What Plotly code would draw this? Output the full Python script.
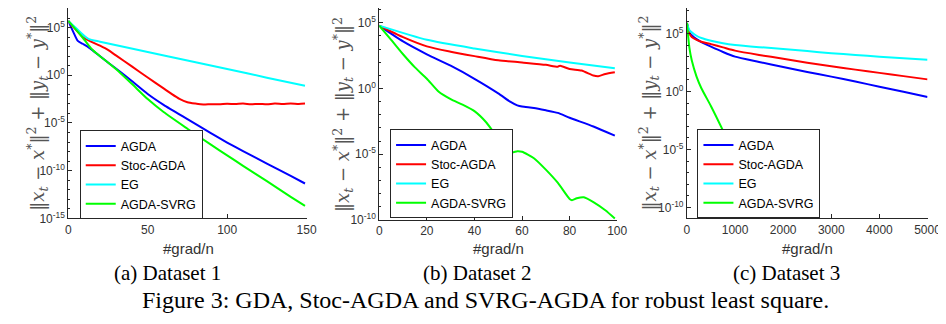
import plotly.graph_objects as go

# ---------------- data ----------------
names = ["AGDA", "Stoc-AGDA", "EG", "AGDA-SVRG"]
colors = ["#0000FF", "#FF0000", "#00FFFF", "#00FF00"]

# Dataset 1
d1_agda_t = [0, 3, 6, 9, 13, 20, 25, 30, 40, 50, 60, 75, 90, 100, 110, 125, 140, 149]
d1_agda_y = [5e5, 4e4, 4e3, 2e3, 8e2, 1.0e2, 2.2e1, 5.2, 2.5e-1, 1.1e-2, 8e-4, 2.5e-5, 8e-7, 8.9e-8, 1.1e-8, 5.6e-10, 2.8e-11, 4.5e-12]
d1_stoc_t = [0, 10, 20, 25, 30, 40, 50, 60, 65, 70, 75, 80, 85, 90, 95, 100, 105, 110, 115, 120, 125, 130, 135, 140, 145, 149]
d1_stoc_y = [5e5, 8e3, 1.25e3, 4.5e2, 1.2e2, 8.5, 5.8e-1, 4.2e-2, 1.1e-2, 3.3e-3, 1.5e-3, 1.07e-3, 8.5e-4, 9.3e-4, 8.9e-4, 1.05e-3, 9.5e-4, 1.07e-3, 9.1e-4, 1.0e-3, 8.9e-4, 1.1e-3, 1.0e-3, 1.12e-3, 1.0e-3, 1.07e-3]
d1_eg_t = [0, 5, 10, 13, 20, 50, 75, 100, 125, 149]
d1_eg_y = [5e5, 8.5e4, 1.4e4, 6.2e3, 3.3e3, 2.8e2, 3.5e1, 4.6, 5.6e-1, 7.9e-2]
d1_svrg_t = [0, 5, 10, 15, 20, 25, 30, 40, 50, 60, 75, 90, 100, 110, 125, 140, 149]
d1_svrg_y = [5e5, 5.6e4, 5.6e3, 5e2, 1.0e2, 2.2e1, 4.5, 1.26e-1, 3.2e-3, 1.4e-4, 2.5e-6, 5e-8, 4e-9, 3.2e-10, 7.9e-12, 1.8e-13, 2e-14]

# Dataset 2
d2_agda_t = [0, 10, 20, 30, 40, 50, 55, 58, 60, 65, 70, 75, 80, 90, 99]
d2_agda_y = [6e4, 3.8e3, 4e2, 5.4e1, 5.5, 4.3e-1, 1.0e-1, 5.2e-2, 4.2e-2, 3.3e-2, 2.2e-2, 1.4e-2, 6e-3, 1.3e-3, 2.6e-4]
d2_stoc_t = [0, 10, 20, 30, 40, 50, 60, 70, 75, 76, 80, 85, 90, 92, 95, 99]
d2_stoc_y = [6e4, 8e3, 1.6e3, 6.3e2, 2.9e2, 1.4e2, 9.5e1, 6.3e1, 4.5e1, 5.4e1, 3.0e1, 2.3e1, 9.8, 8.7, 1.26e1, 1.7e1]
d2_eg_t = [0, 20, 40, 60, 80, 99]
d2_eg_y = [6e4, 5e3, 1.1e3, 3.0e2, 9.5e1, 3.4e1]
d2_svrg_t = [0, 5, 10, 15, 20, 25, 30, 35, 40, 45, 50, 54, 56, 58, 60, 65, 70, 75, 80, 81, 83, 86, 90, 95, 99]
d2_svrg_y = [6e4, 5e3, 4e2, 4e1, 5.5, 5.6e-1, 1.55e-1, 5.9e-2, 1.9e-2, 2.6e-3, 1.5e-4, 1.7e-5, 1.4e-5, 1.7e-5, 1.55e-5, 5e-6, 6.8e-7, 6.9e-8, 4e-9, 3.2e-9, 4.5e-9, 5.4e-9, 2.3e-9, 5.5e-10, 1.3e-10]

# Dataset 3
d3_t = [0, 50, 100, 200, 300, 500, 750, 1000, 1500, 2000, 2500, 3000, 3500, 4000, 4500, 5000]
d3_agda_y = [8e5, 1.2e5, 7e4, 3.2e4, 1.8e4, 7.2e3, 2.5e3, 1.0e3, 3.5e2, 1.26e2, 4.8e1, 1.9e1, 7.1, 2.6, 9.3e-1, 3.3e-1]
d3_stoc_y = [8e5, 1.0e5, 5e4, 2.8e4, 1.9e4, 1.2e4, 6.3e3, 3.3e3, 1.4e3, 6.6e2, 3.0e2, 1.5e2, 7.6e1, 4.0e1, 2.1e1, 1.1e1]
d3_eg_y = [8e5, 2.0e5, 1.26e5, 6.3e4, 4.0e4, 2.3e4, 1.4e4, 1.0e4, 6.6e3, 4.6e3, 3.0e3, 2.0e3, 1.4e3, 1.0e3, 7.2e2, 5.4e2]
d3_svrg_t = [0, 50, 100, 200, 300, 500, 750, 1000, 1250, 1500, 1750]
d3_svrg_y = [8e5, 6.3e3, 4.8e2, 1.9e1, 1.9, 5.4e-2, 4.2e-4, 2.5e-6, 3.2e-8, 4e-10, 5e-12]

# tick labels
ytick_vals = [1e-15, 1e-10, 1e-5, 1e0, 1e5]
ytick_text = ["10<sup>-15</sup>", "10<sup>-10</sup>", "10<sup>-5</sup>", "10<sup>0</sup>", "10<sup>5</sup>"]

subcaptions = ["(a) Dataset 1", "(b) Dataset 2", "(c) Dataset 3"]
caption = "Figure 3: GDA, Stoc-AGDA and SVRG-AGDA for robust least square."
xlabel = "#grad/n"
ylabel = ("‖<i>x</i><sub><i>t</i></sub> − <i>x</i><sup>*</sup>‖<sup>2</sup> + "
          "‖<i>y</i><sub><i>t</i></sub> − <i>y</i><sup>*</sup>‖<sup>2</sup>")

panels = [
    [(d1_agda_t, d1_agda_y), (d1_stoc_t, d1_stoc_y), (d1_eg_t, d1_eg_y), (d1_svrg_t, d1_svrg_y)],
    [(d2_agda_t, d2_agda_y), (d2_stoc_t, d2_stoc_y), (d2_eg_t, d2_eg_y), (d2_svrg_t, d2_svrg_y)],
    [(d3_t, d3_agda_y), (d3_t, d3_stoc_y), (d3_t, d3_eg_y), (d3_svrg_t, d3_svrg_y)],
]

# ---------------- layout geometry ----------------
W, H = 946, 324
xdom = [(58.3, 301.0), (375.0, 617.3), (688.3, 933.3)]
ybot = [215.0, 216.7, 215.0]
yranges = [[-15, 7.05], [-10, 6.12], [-10.93, 7.19]]
xranges = [[0, 150], [0, 100], [0, 5000]]
xdticks = [50, 20, 1000]
legpos = [(70, 125), (386, 124), (699, 124)]
ytitle_x = [27, 338, 650]
xtitle_x = [181, 496, 811]
sub_x = [159, 475, 790]

AX = "#262626"
TXT = "#333333"
SANS = "Liberation Sans, Arial, sans-serif"
SERIF = "Liberation Serif, Times New Roman, serif"

fig = go.Figure()
for p, series in enumerate(panels):
    sfx = "" if p == 0 else str(p + 1)
    for k, (t, y) in enumerate(series):
        fig.add_trace(go.Scatter(
            x=t, y=y, mode="lines", name=names[k],
            line=dict(color=colors[k], width=2, shape="spline", smoothing=0.6),
            xaxis="x" + sfx, yaxis="y" + sfx,
            legend="legend" + sfx,
        ))

layout = dict(
    width=W, height=H,
    margin=dict(l=0, r=0, t=0, b=0),
    paper_bgcolor="white", plot_bgcolor="white",
    showlegend=True,
)
annotations = []
for p in range(3):
    sfx = "" if p == 0 else str(p + 1)
    x0, x1 = xdom[p]
    layout["xaxis" + sfx] = dict(
        domain=[x0 / W, x1 / W], range=xranges[p], dtick=xdticks[p], tick0=0,
        anchor="y" + sfx, showline=True, linecolor=AX, linewidth=1,
        ticks="inside", ticklen=4, tickcolor=AX, showgrid=False, zeroline=False,
        tickfont=dict(family=SANS, size=12, color=TXT),
    )
    layout["yaxis" + sfx] = dict(
        domain=[1 - ybot[p] / H, 1.0], type="log", range=yranges[p],
        tickmode="array", tickvals=ytick_vals, ticktext=ytick_text,
        anchor="x" + sfx,
        showline=True, linecolor=AX, linewidth=1,
        ticks="inside", ticklen=4, tickcolor=AX, showgrid=False, zeroline=False,
        tickfont=dict(family=SANS, size=12, color=TXT),
        minor=dict(ticks="inside", ticklen=2, tickcolor=AX, dtick=1, showgrid=False),
    )
    lx, ly = legpos[p]
    layout["legend" + sfx] = dict(
        x=lx / W, y=1 - ly / H, xanchor="left", yanchor="top",
        bgcolor="white", bordercolor="#262626", borderwidth=1,
        font=dict(family=SANS, size=12.5, color="black"),
        itemwidth=30, tracegroupgap=0,
    )
    annotations.append(dict(
        text=ylabel, textangle=-90, x=ytitle_x[p] / W, y=(1 - ybot[p] / H + 1) / 2,
        xref="paper", yref="paper", showarrow=False, xanchor="center", yanchor="middle",
        font=dict(family="DejaVu Serif, serif", size=18, color="#555555"),
    ))
    annotations.append(dict(
        text=xlabel, x=xtitle_x[p] / W, y=1 - 246 / H, xref="paper", yref="paper",
        showarrow=False, xanchor="center", yanchor="middle",
        font=dict(family=SANS, size=15, color=TXT),
    ))
    annotations.append(dict(
        text=subcaptions[p], x=sub_x[p] / W, y=1 - 271 / H, xref="paper", yref="paper",
        showarrow=False, xanchor="center", yanchor="middle",
        font=dict(family=SERIF, size=21, color="black"),
    ))
annotations.append(dict(
    text=caption, x=483 / W, y=1 - 298.5 / H, xref="paper", yref="paper",
    showarrow=False, xanchor="center", yanchor="middle",
    font=dict(family=SERIF, size=24, color="black"),
))
layout["annotations"] = annotations
fig.update_layout(**layout)
fig.write_html("out.html")
